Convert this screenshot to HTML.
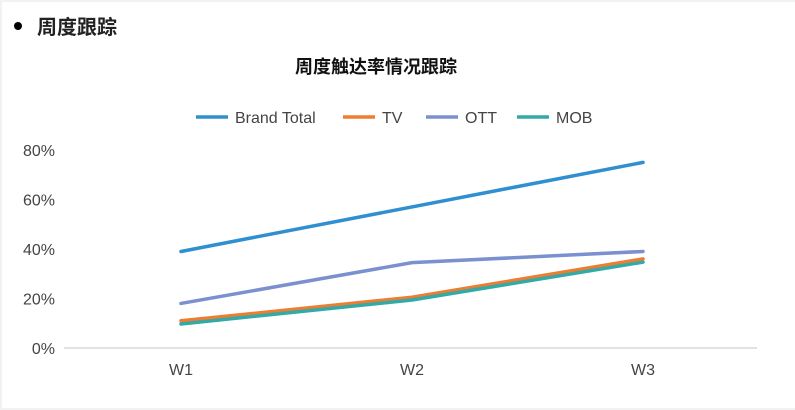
<!DOCTYPE html>
<html><head><meta charset="utf-8"><style>
html,body{margin:0;padding:0;background:#f2f2f2;}
#wrap{position:absolute;left:2px;top:2px;width:793px;height:406px;background:#fff;font-family:"Liberation Sans","Noto Sans CJK SC",sans-serif;}
</style></head><body>
<div id="wrap">
<svg id="svg" width="795" height="410" style="position:absolute;left:-2px;top:-2px">
<circle cx="18" cy="26" r="4" fill="#000"/>
<text x="37" y="34" font-size="20" font-weight="bold" fill="#222" font-family="Liberation Sans,Noto Sans CJK SC,sans-serif">周度跟踪</text>
<text x="376" y="73" font-size="18" font-weight="bold" fill="#111" text-anchor="middle" font-family="Liberation Sans,Noto Sans CJK SC,sans-serif">周度触达率情况跟踪</text>
<g id="legend"></g>
<g id="axes"></g>
<g id="lines"></g>
</svg>
</div>
<script>
const categories=["W1","W2","W3"];
const seriesNames=["Brand Total","TV","OTT","MOB"];
const brandTotal=[39,57,75];
const tv=[11,20.5,36];
const ott=[18,34.5,39];
const mob=[9.7,19.4,34.7];
const yTicks=[0,20,40,60,80];
const yTickLabels=["0%","20%","40%","60%","80%"];
const colors=["#2f8fd0","#ed7d31","#7b91cf","#33aaa8"];
const allSeries=[brandTotal,tv,ott,mob];
const NS="http://www.w3.org/2000/svg";
function x(i){return 181+i*231;}
function y(v){return 348-v*2.475;}
function mk(tag,attrs,parent){const e=document.createElementNS(NS,tag);for(const k in attrs)e.setAttribute(k,attrs[k]);parent.appendChild(e);return e;}
const axes=document.getElementById('axes');
const base=mk('line',{x1:64,x2:757,y1:y(0),y2:y(0),stroke:'#d9d9d9','stroke-width':1.5},axes);


yTicks.forEach((t,i)=>{const tx=mk('text',{x:55,y:y(t)+6,'font-size':16,fill:'#444','text-anchor':'end'},axes);tx.textContent=yTickLabels[i];

});
categories.forEach((c,i)=>{const tx=mk('text',{x:x(i),y:375,'font-size':16,fill:'#444','text-anchor':'middle'},axes);tx.textContent=c;

});
const lines=document.getElementById('lines');
[2,1,3,0].forEach(s=>{const pts=allSeries[s].map((v,i)=>x(i)+','+y(v)).join(' ');
const pl=mk('polyline',{points:pts,fill:'none',stroke:colors[s],'stroke-width':3.5,'stroke-linejoin':'round','stroke-linecap':'round'},lines);

});
const lg=document.getElementById('legend');
const lx=[196,343,426,517];
seriesNames.forEach((n,i)=>{const g=mk('g',{},lg);


mk('line',{x1:lx[i],x2:lx[i]+32,y1:117,y2:117,stroke:colors[i],'stroke-width':3.5},g);
const t=mk('text',{x:lx[i]+39,y:123,'font-size':16,fill:'#444'},g);t.textContent=n;});
</script>
</body></html>
